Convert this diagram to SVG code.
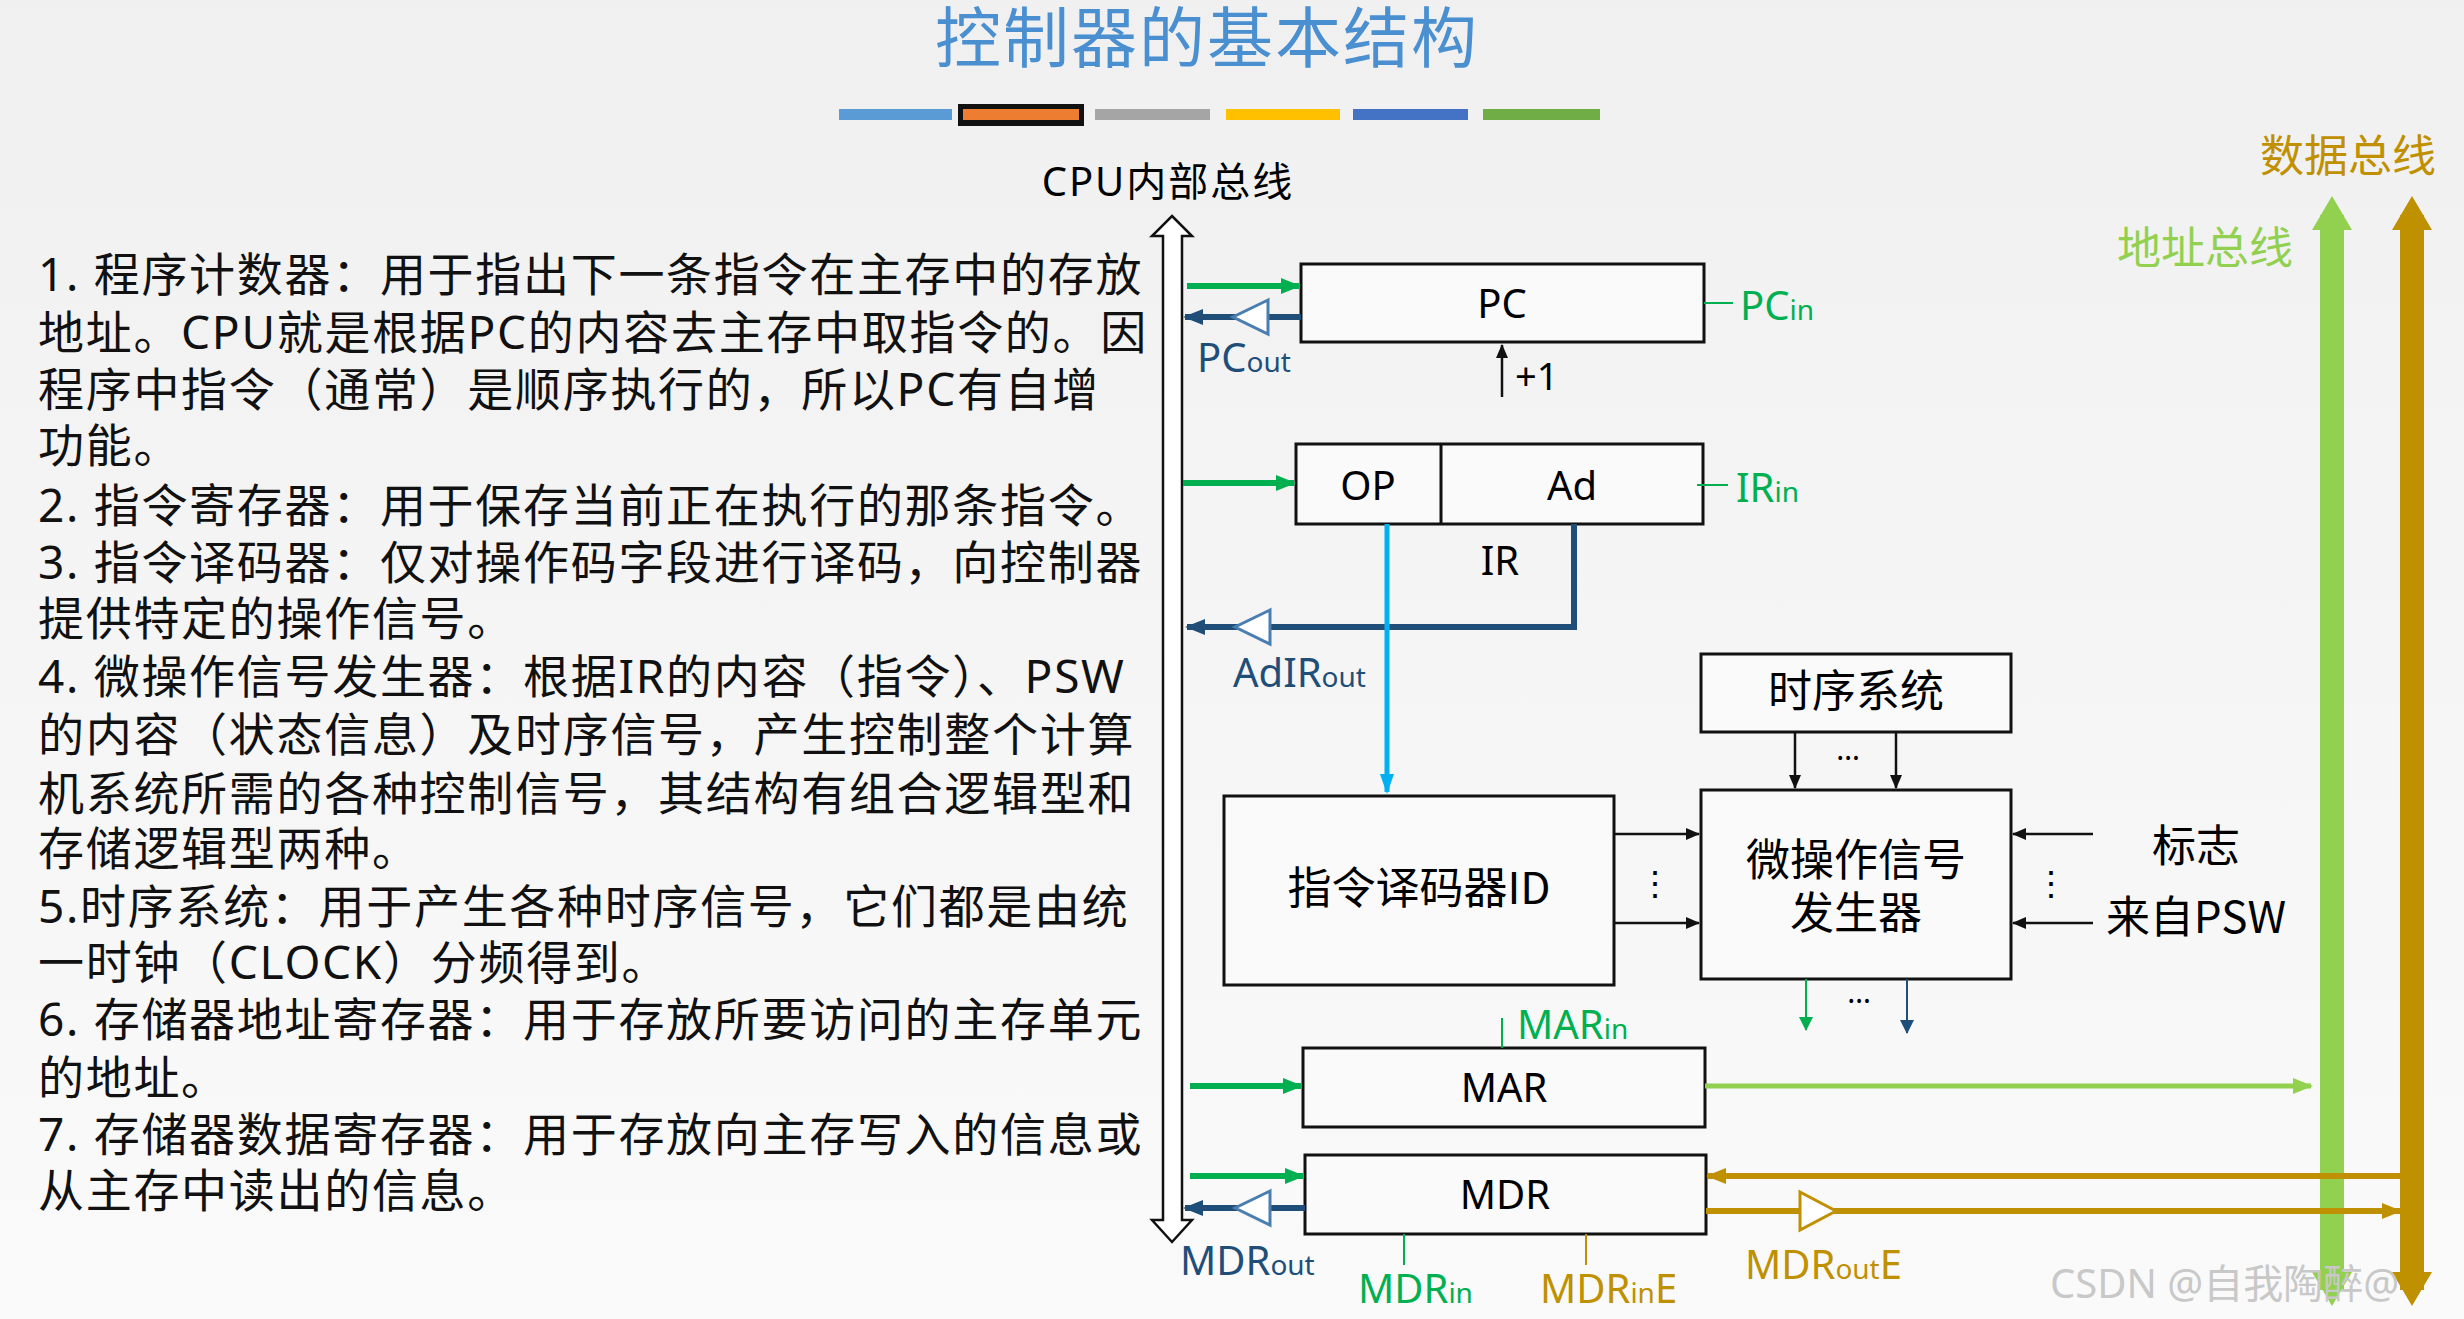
<svg xmlns="http://www.w3.org/2000/svg" width="2464" height="1319" viewBox="0 0 2464 1319">
<style>
text{font-family:"Noto Sans","Noto Sans CJK SC",sans-serif}
.box{fill:#fafafa;stroke:#111;stroke-width:3}
.lbl{font-size:40px;fill:#000;text-anchor:middle}
.cn{font-size:44px;fill:#000;text-anchor:middle;font-family:"Noto Sans CJK SC",sans-serif}
.lt{font-size:46px;fill:#111;font-family:"Noto Sans CJK SC",sans-serif;letter-spacing:1.7px}
.g{stroke:#00b050;stroke-width:6;fill:none}
.b{stroke:#1f4e79;stroke-width:6;fill:none}
.k{stroke:#111;stroke-width:2.5;fill:none}
.y{stroke:#bf9000;stroke-width:6;fill:none}
.sig{font-size:40px}
.sub{font-size:28px}
</style>
<defs>
<marker id="ag" markerWidth="20" markerHeight="20" refX="18" refY="10" orient="auto" markerUnits="userSpaceOnUse"><path d="M0,2L20,10L0,18z" fill="#00b050"/></marker>
<marker id="ab" markerWidth="20" markerHeight="20" refX="18" refY="10" orient="auto" markerUnits="userSpaceOnUse"><path d="M0,2L20,10L0,18z" fill="#1f4e79"/></marker>
<marker id="ay" markerWidth="20" markerHeight="20" refX="18" refY="10" orient="auto" markerUnits="userSpaceOnUse"><path d="M0,2L20,10L0,18z" fill="#bf9000"/></marker>
<marker id="al" markerWidth="20" markerHeight="20" refX="18" refY="10" orient="auto" markerUnits="userSpaceOnUse"><path d="M0,2L20,10L0,18z" fill="#92d050"/></marker>
<marker id="ac" markerWidth="20" markerHeight="20" refX="18" refY="10" orient="auto" markerUnits="userSpaceOnUse"><path d="M0,3L20,10L0,17z" fill="#00b0f0"/></marker>
<marker id="ak" markerWidth="14" markerHeight="12" refX="13" refY="6" orient="auto" markerUnits="userSpaceOnUse"><path d="M0,0L14,6L0,12z" fill="#111"/></marker>
<marker id="akg" markerWidth="14" markerHeight="14" refX="13" refY="7" orient="auto" markerUnits="userSpaceOnUse"><path d="M0,0L14,7L0,14z" fill="#00b050"/></marker>
<marker id="akb" markerWidth="14" markerHeight="14" refX="13" refY="7" orient="auto" markerUnits="userSpaceOnUse"><path d="M0,0L14,7L0,14z" fill="#1f4e79"/></marker>
<linearGradient id="bg" x1="0" y1="0" x2="0" y2="1"><stop offset="0" stop-color="#f0f0f0"/><stop offset="1" stop-color="#fafafa"/></linearGradient>
</defs>
<rect width="2464" height="1319" fill="url(#bg)"/>
<text x="1207" y="62" font-size="66" fill="#4a8fd0" text-anchor="middle" letter-spacing="2" font-family="Noto Sans CJK SC,sans-serif">控制器的基本结构</text>
<g id="bars">
<rect x="839" y="109" width="113" height="11" fill="#5b9bd5"/>
<rect x="958" y="104" width="126" height="22" fill="#111"/><rect x="963" y="109" width="116" height="11" fill="#ed7d31"/>
<rect x="1095" y="109" width="115" height="11" fill="#a5a5a5"/>
<rect x="1226" y="109" width="114" height="11" fill="#ffc000"/>
<rect x="1353" y="109" width="115" height="11" fill="#4472c4"/>
<rect x="1483" y="109" width="117" height="11" fill="#70ad47"/>
</g>
<g id="text-left" class="lt">
<text x="38" y="291">1. 程序计数器：用于指出下一条指令在主存中的存放</text>
<text x="38" y="349">地址。CPU就是根据PC的内容去主存中取指令的。因</text>
<text x="38" y="406">程序中指令（通常）是顺序执行的，所以PC有自增</text>
<text x="38" y="462">功能。</text>
<text x="38" y="522">2. 指令寄存器：用于保存当前正在执行的那条指令。</text>
<text x="38" y="579">3. 指令译码器：仅对操作码字段进行译码，向控制器</text>
<text x="38" y="635">提供特定的操作信号。</text>
<text x="38" y="693">4. 微操作信号发生器：根据IR的内容（指令）、PSW</text>
<text x="38" y="751">的内容（状态信息）及时序信号，产生控制整个计算</text>
<text x="38" y="810">机系统所需的各种控制信号，其结构有组合逻辑型和</text>
<text x="38" y="865">存储逻辑型两种。</text>
<text x="38" y="923">5.时序系统：用于产生各种时序信号，它们都是由统</text>
<text x="38" y="979">一时钟（CLOCK）分频得到。</text>
<text x="38" y="1036">6. 存储器地址寄存器：用于存放所要访问的主存单元</text>
<text x="38" y="1094">的地址。</text>
<text x="38" y="1151">7. 存储器数据寄存器：用于存放向主存写入的信息或</text>
<text x="38" y="1207">从主存中读出的信息。</text>
</g>
<g id="cpubus">
<text x="1168" y="196" font-size="40" text-anchor="middle" fill="#000" letter-spacing="2" font-family="Noto Sans CJK SC,sans-serif">CPU内部总线</text>
<path d="M1172,216L1192,236L1182,236L1182,1220L1192,1220L1172,1242L1152,1220L1163,1220L1163,236L1152,236Z" fill="#fff" stroke="#111" stroke-width="2.5"/>
</g>
<g id="buses">
<path d="M2332,1290V215" stroke="#92d050" stroke-width="24" fill="none"/>
<path d="M2332,196L2352,230H2312Z M2332,1306L2352,1272H2312Z" fill="#92d050"/>
<path d="M2412,1290V215" stroke="#bf9000" stroke-width="24" fill="none"/>
<path d="M2412,196L2432,230H2392Z M2412,1306L2432,1272H2392Z" fill="#bf9000"/>
<text x="2117" y="264" font-size="44" fill="#92d050" font-family="Noto Sans CJK SC,sans-serif">地址总线</text>
<text x="2260" y="172" font-size="44" fill="#c09000" font-family="Noto Sans CJK SC,sans-serif">数据总线</text>
</g>
<g id="PC"><rect class="box" x="1301" y="264" width="403" height="78"/><text class="lbl" x="1502" y="318">PC</text></g>
<g id="IR"><rect class="box" x="1296" y="444" width="407" height="80"/><line x1="1441" y1="444" x2="1441" y2="524" stroke="#111" stroke-width="3"/>
<text class="lbl" x="1368" y="500">OP</text><text class="lbl" x="1572" y="500">Ad</text><text class="lbl" x="1500" y="575">IR</text></g>
<g id="timing"><rect class="box" x="1701" y="654" width="310" height="78"/><text class="cn" x="1856" y="707">时序系统</text></g>
<g id="uop"><rect class="box" x="1701" y="790" width="310" height="189"/><text class="cn" x="1856" y="876">微操作信号</text><text class="cn" x="1856" y="929">发生器</text></g>
<g id="ID"><rect class="box" x="1224" y="796" width="390" height="189"/><text class="cn" x="1419" y="904">指令译码器ID</text></g>
<g id="MAR"><rect class="box" x="1303" y="1048" width="402" height="79"/><text class="lbl" x="1504" y="1102">MAR</text></g>
<g id="MDR"><rect class="box" x="1305" y="1155" width="401" height="79"/><text class="lbl" x="1505" y="1209">MDR</text></g>
<g id="connectors">
<line class="g" x1="1187" y1="286" x2="1299" y2="286" marker-end="url(#ag)"/>
<line class="b" x1="1301" y1="317" x2="1185" y2="317" marker-end="url(#ab)"/>
<path d="M1268,300L1233,317L1268,334Z" fill="#fff" stroke="#4a7eb0" stroke-width="3"/>
<line class="k" x1="1502" y1="397" x2="1502" y2="345" marker-end="url(#ak)"/>
<line x1="1704" y1="303" x2="1733" y2="303" stroke="#00b050" stroke-width="2"/>
<line class="g" x1="1183" y1="483" x2="1294" y2="483" marker-end="url(#ag)"/>
<line x1="1697" y1="485" x2="1728" y2="485" stroke="#00b050" stroke-width="2"/>
<path class="b" d="M1574,524V627H1187" marker-end="url(#ab)"/>
<path d="M1270,610L1235,627L1270,644Z" fill="#fff" stroke="#4a7eb0" stroke-width="3"/>
<line x1="1387" y1="524" x2="1387" y2="792" stroke="#00b0f0" stroke-width="5" marker-end="url(#ac)"/>
<line class="k" x1="1795" y1="732" x2="1795" y2="788" marker-end="url(#ak)"/>
<line class="k" x1="1896" y1="732" x2="1896" y2="788" marker-end="url(#ak)"/>
<line class="k" x1="1614" y1="834" x2="1699" y2="834" marker-end="url(#ak)"/>
<line class="k" x1="1614" y1="923" x2="1699" y2="923" marker-end="url(#ak)"/>
<line class="k" x1="2093" y1="834" x2="2013" y2="834" marker-end="url(#ak)"/>
<line class="k" x1="2093" y1="923" x2="2013" y2="923" marker-end="url(#ak)"/>
<line x1="1806" y1="979" x2="1806" y2="1030" stroke="#00b050" stroke-width="2" marker-end="url(#akg)"/>
<line x1="1907" y1="979" x2="1907" y2="1033" stroke="#1f4e79" stroke-width="2" marker-end="url(#akb)"/>
<line x1="1502" y1="1018" x2="1502" y2="1048" stroke="#00b050" stroke-width="2"/>
<line class="g" x1="1190" y1="1086" x2="1301" y2="1086" marker-end="url(#ag)"/>
<line x1="1705" y1="1086" x2="2311" y2="1086" stroke="#92d050" stroke-width="5" marker-end="url(#al)"/>
<line class="g" x1="1190" y1="1176" x2="1303" y2="1176" marker-end="url(#ag)"/>
<line class="b" x1="1305" y1="1208" x2="1185" y2="1208" marker-end="url(#ab)"/>
<path d="M1270,1191L1235,1208L1270,1225Z" fill="#fff" stroke="#4a7eb0" stroke-width="3"/>
<line class="y" x1="2400" y1="1176" x2="1708" y2="1176" marker-end="url(#ay)"/>
<line class="y" x1="1706" y1="1211" x2="2400" y2="1211" marker-end="url(#ay)"/>
<path d="M1800,1192L1836,1211L1800,1230Z" fill="#fff" stroke="#bf9000" stroke-width="3"/>
<line x1="1404" y1="1234" x2="1404" y2="1265" stroke="#00b050" stroke-width="2"/>
<line x1="1586" y1="1234" x2="1586" y2="1265" stroke="#bf9000" stroke-width="2"/>
</g>
<g id="labels">
<text x="1197" y="372" fill="#1f4e79" class="sig">PC<tspan class="sub">out</tspan></text>
<text x="1740" y="320" fill="#00b050" class="sig">PC<tspan class="sub">in</tspan></text>
<text x="1515" y="390" font-size="38" fill="#000">+1</text>
<text x="1736" y="502" fill="#00b050" class="sig">IR<tspan class="sub">in</tspan></text>
<text x="1233" y="687" fill="#1f4e79" class="sig">AdIR<tspan class="sub">out</tspan></text>
<text x="1848" y="760" font-size="30" text-anchor="middle" fill="#000">…</text>
<text x="1859" y="1003" font-size="30" text-anchor="middle" fill="#000">…</text>
<text x="1655" y="895" font-size="34" text-anchor="middle" fill="#000">⋮</text>
<text x="2051" y="895" font-size="34" text-anchor="middle" fill="#000">⋮</text>
<text class="cn" x="2196" y="862">标志</text>
<text class="cn" x="2196" y="933">来自PSW</text>
<text x="1517" y="1039" fill="#00b050" class="sig">MAR<tspan class="sub">in</tspan></text>
<text x="1180" y="1275" fill="#1f4e79" class="sig">MDR<tspan class="sub">out</tspan></text>
<text x="1358" y="1303" fill="#00b050" class="sig">MDR<tspan class="sub">in</tspan></text>
<text x="1540" y="1303" fill="#bf9000" class="sig">MDR<tspan class="sub">in</tspan>E</text>
<text x="1745" y="1279" fill="#bf9000" class="sig">MDR<tspan class="sub">out</tspan>E</text>
<text x="2050" y="1298" font-size="40" fill="#c8c8c8" font-family="Noto Sans CJK SC,sans-serif">CSDN @自我陶醉@</text>
</g>
</svg>
